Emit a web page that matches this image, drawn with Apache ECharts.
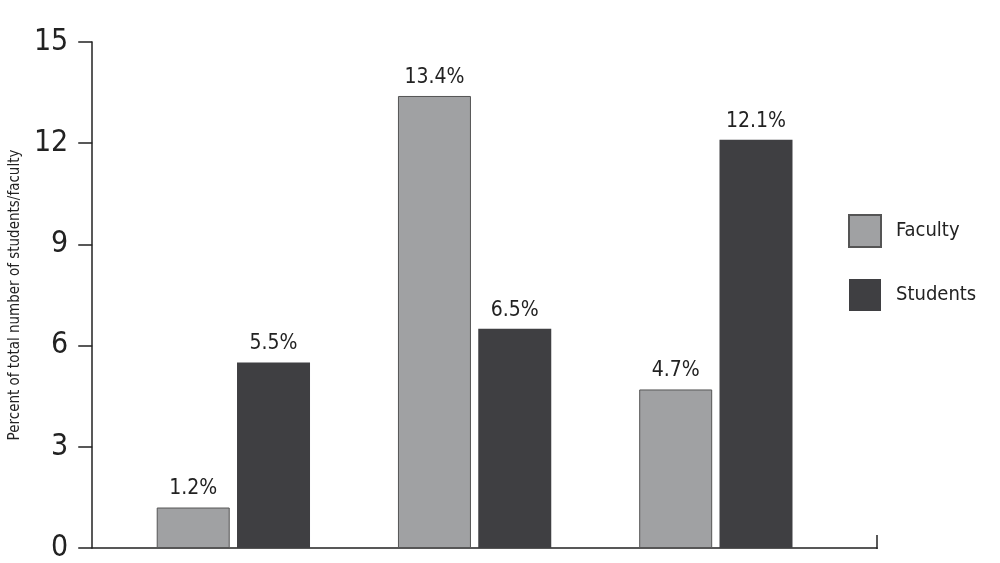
<!DOCTYPE html>
<html>
<head>
<meta charset="utf-8">
<script src="https://cdn.jsdelivr.net/npm/echarts@6/dist/echarts.min.js"></script>
<style>html,body{margin:0;padding:0;background:#fff}#chart{width:1000px;height:563px}</style>
</head>
<body>
<div id="chart"></div>
<script>
// 数据
const groups = [1, 2, 3];
const faculty = [1.2, 13.4, 4.7];
const students = [5.5, 6.5, 12.1];
const yTicks = [0, 3, 6, 9, 12, 15];

const font = '"Liberation Sans Narrow", "DejaVu Sans Condensed", sans-serif';
const chart = echarts.init(document.getElementById('chart'));
const option = {
    animation: false,
    grid: { left: 92, right: 123, top: 42, bottom: 14 },
    legend: {
        orient: 'vertical',
        left: 843,
        top: 209,
        itemWidth: 32,
        itemHeight: 32,
        itemGap: 31,
        icon: 'rect',
        textStyle: { fontSize: 20, fontFamily: font, color: '#222', padding: [0, 0, 0, 10] },
        data: ['Faculty', 'Students']
    },
    xAxis: {
        type: 'value',
        min: 0.415,
        max: 3.668,
        splitLine: { show: false },
        axisLabel: { show: false },
        axisTick: { show: false },
        axisLine: { show: true, lineStyle: { color: '#222', width: 1.5 } }
    },
    yAxis: {
        type: 'value',
        min: 0,
        max: 15,
        interval: 3,
        name: 'Percent of total number of students/faculty',
        nameLocation: 'middle',
        nameGap: 68,
        nameTextStyle: { fontSize: 15, fontFamily: font, color: '#222' },
        splitLine: { show: false },
        axisLine: { show: true, lineStyle: { color: '#222', width: 1.5 } },
        axisTick: { show: true, length: 14, lineStyle: { color: '#222', width: 1.5 } },
        axisLabel: { fontSize: 30, fontFamily: font, color: '#222', margin: 24 }
    },
    series: [
        {
            name: 'Faculty',
            type: 'bar',
            barWidth: 73,
            barGap: '10%',
            data: groups.map((g, i) => [g, faculty[i]]),
            itemStyle: { color: '#a0a1a3', borderColor: '#555', borderWidth: 1 },
            label: { show: true, position: 'top', distance: 8, fontSize: 21, fontFamily: font, color: '#222',
                formatter: p => p.value[1].toFixed(1) + '%' }
        },
        {
            name: 'Students',
            type: 'bar',
            barWidth: 73,
            barGap: '10%',
            data: groups.map((g, i) => [g, students[i]]),
            itemStyle: { color: '#3f3f42' },
            label: { show: true, position: 'top', distance: 8, fontSize: 21, fontFamily: font, color: '#222',
                formatter: p => p.value[1].toFixed(1) + '%' }
        }
    ],
    graphic: [
        { type: 'line', shape: { x1: 877, y1: 549, x2: 877, y2: 535 }, style: { stroke: '#222', lineWidth: 1.5 } }
    ]
};
chart.setOption(option);
</script>
</body>
</html>
